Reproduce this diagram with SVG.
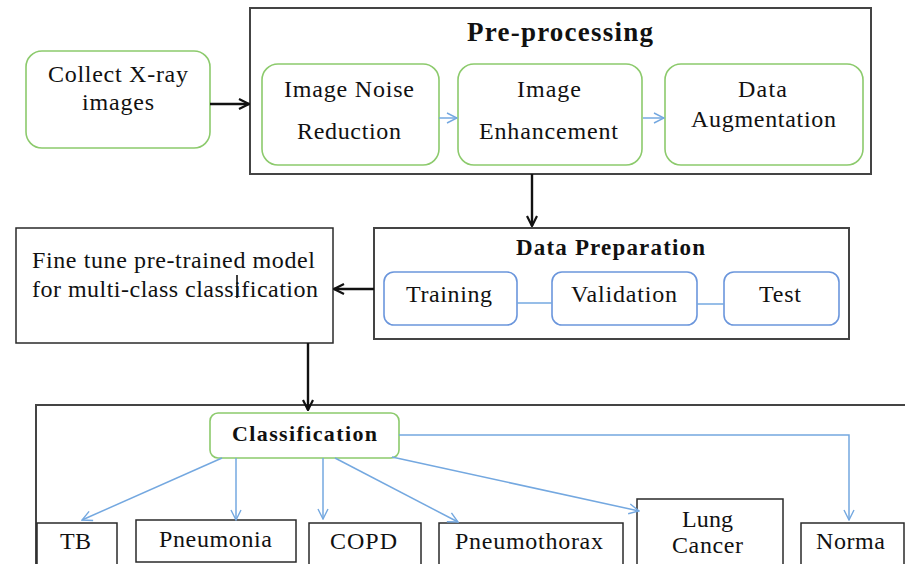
<svg xmlns="http://www.w3.org/2000/svg" width="905" height="564" viewBox="0 0 905 564">
<style>
  .frame { fill: #fff; stroke: #444; stroke-width: 2; }
  .gbox { fill: #fff; stroke: #8cca6c; stroke-width: 1.6; }
  .bbox { fill: #fff; stroke: #6b96dc; stroke-width: 1.6; }
  .kbox { fill: #fff; stroke: #2a2a2a; stroke-width: 1.5; }
  .blk { fill: none; stroke: #111; stroke-width: 2.4; }
  .blu { fill: none; stroke: #74a8e0; stroke-width: 1.5; }
</style>
<defs>
  <marker id="ak" viewBox="0 0 12 12" refX="11" refY="6" markerWidth="12" markerHeight="12" markerUnits="userSpaceOnUse" orient="auto">
    <path d="M1,1 L11,6 L1,11" fill="none" stroke="#111" stroke-width="2.2"/>
  </marker>
  <marker id="ab" viewBox="0 0 12 12" refX="11" refY="6" markerWidth="12" markerHeight="12" markerUnits="userSpaceOnUse" orient="auto">
    <path d="M1,1 L11,6 L1,11" fill="none" stroke="#74a8e0" stroke-width="1.4"/>
  </marker>
</defs>
<rect width="905" height="564" fill="#fff"/>

<g font-family="Liberation Serif" font-size="24" fill="#111">

<g id="classification-frame">
  <rect class="frame" x="36" y="405" width="880" height="200"/>
</g>

<g id="collect">
  <rect class="gbox" x="26" y="51" width="184" height="97" rx="16"/>
  <text x="48" y="82" textLength="140">Collect X-ray</text>
  <text x="82" y="110" textLength="72">images</text>
</g>

<g id="preprocessing">
  <rect class="frame" x="250" y="8" width="621" height="166"/>
  <text font-weight="bold" font-size="27" x="467" y="41" textLength="186">Pre-processing</text>
</g>

<g id="noise">
  <rect class="gbox" x="262" y="64" width="177" height="101" rx="16"/>
  <text x="284" y="97" textLength="130">Image Noise</text>
  <text x="297" y="139" textLength="104">Reduction</text>
</g>

<g id="enhancement">
  <rect class="gbox" x="458" y="64" width="184" height="101" rx="16"/>
  <text x="517" y="97" textLength="64">Image</text>
  <text x="479" y="139" textLength="139">Enhancement</text>
</g>

<g id="augmentation">
  <rect class="gbox" x="665" y="64" width="198" height="101" rx="16"/>
  <text x="738" y="97" textLength="49">Data</text>
  <text x="691" y="127" textLength="145">Augmentation</text>
</g>

<g id="data-preparation">
  <rect class="frame" x="374" y="228" width="475" height="111"/>
  <text font-weight="bold" font-size="23" x="516" y="255" textLength="189">Data Preparation</text>
</g>

<g id="training">
  <rect class="bbox" x="384" y="272" width="133" height="53" rx="10"/>
  <text x="406" y="302" textLength="86">Training</text>
</g>
<g id="validation">
  <rect class="bbox" x="552" y="272" width="145" height="53" rx="10"/>
  <text x="571" y="302" textLength="106">Validation</text>
</g>
<g id="test">
  <rect class="bbox" x="724" y="272" width="115" height="53" rx="10"/>
  <text x="759" y="302" textLength="42">Test</text>
</g>

<g id="finetune">
  <rect class="kbox" x="16" y="228" width="317" height="115"/>
  <text x="32" y="268" textLength="283">Fine tune pre-trained model</text>
  <text x="32" y="297" textLength="286">for multi-class classification</text>
  <line x1="237" y1="275" x2="237" y2="298" stroke="#111" stroke-width="1.6"/>
</g>

<g id="classification">
  <rect class="gbox" x="210" y="413" width="189" height="45" rx="8"/>
  <text font-weight="bold" font-size="22" x="232" y="441" textLength="145">Classification</text>
</g>

<g id="tb">
  <rect class="kbox" x="37" y="523" width="80" height="60"/>
  <text x="60" y="549" textLength="31">TB</text>
</g>
<g id="pneumonia">
  <rect class="kbox" x="136" y="520" width="160" height="42"/>
  <text x="159" y="547" textLength="113">Pneumonia</text>
</g>
<g id="copd">
  <rect class="kbox" x="309" y="523" width="112" height="60"/>
  <text x="330" y="549" textLength="67">COPD</text>
</g>
<g id="pneumothorax">
  <rect class="kbox" x="439" y="523" width="184" height="60"/>
  <text x="455" y="549" textLength="148">Pneumothorax</text>
</g>
<g id="lung-cancer">
  <rect class="kbox" x="637" y="499" width="146" height="84"/>
  <text x="682" y="527" textLength="51">Lung</text>
  <text x="672" y="553" textLength="71">Cancer</text>
</g>
<g id="normal">
  <rect class="kbox" x="801" y="523" width="103" height="60"/>
  <text x="816" y="549" textLength="69">Norma</text>
</g>

</g>

<g id="connectors">
  <line class="blk" x1="210" y1="104" x2="249" y2="104" marker-end="url(#ak)"/>
  <line class="blk" x1="532" y1="174" x2="532" y2="226" marker-end="url(#ak)"/>
  <line class="blk" x1="374" y1="289" x2="334" y2="289" marker-end="url(#ak)"/>
  <line class="blk" x1="308" y1="343" x2="308" y2="410" marker-end="url(#ak)"/>
  <line class="blu" x1="439" y1="118" x2="457" y2="118" marker-end="url(#ab)"/>
  <line class="blu" x1="643" y1="118" x2="664" y2="118" marker-end="url(#ab)"/>
  <line class="blu" x1="517" y1="303" x2="552" y2="303"/>
  <line class="blu" x1="697" y1="304" x2="724" y2="304"/>
  <line class="blu" x1="222" y1="458" x2="82" y2="520" marker-end="url(#ab)"/>
  <line class="blu" x1="236" y1="458" x2="236" y2="520" marker-end="url(#ab)"/>
  <line class="blu" x1="323" y1="458" x2="323" y2="519" marker-end="url(#ab)"/>
  <line class="blu" x1="335" y1="458" x2="458" y2="522" marker-end="url(#ab)"/>
  <line class="blu" x1="392" y1="457" x2="639" y2="511" marker-end="url(#ab)"/>
  <polyline class="blu" points="399,435 849,435 849,520" marker-end="url(#ab)"/>
</g>
</svg>
